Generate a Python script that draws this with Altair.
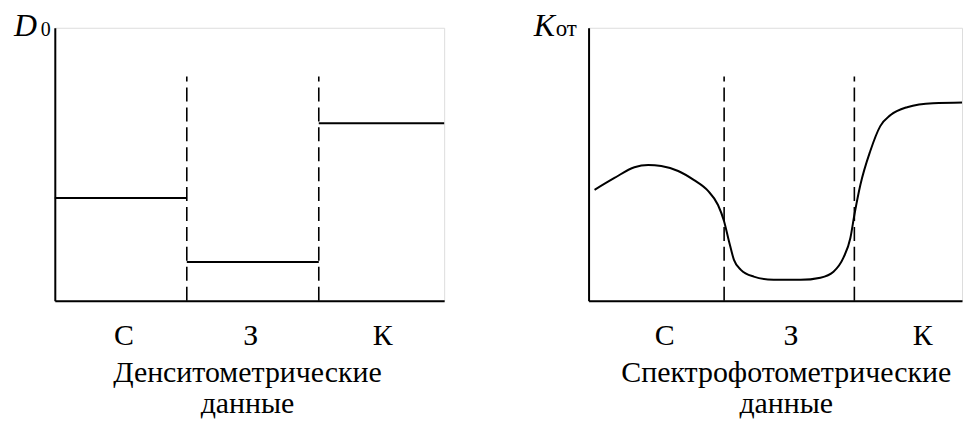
import json
import altair as alt
import pandas as pd

FONT = "Liberation Serif"

# ---------------- data ----------------
cats = ["С", "З", "К"]

# Left panel: densitometric data (step levels per zone)
d_edges = [0.0, 1.0, 2.0, 2.95]          # zone edges (x units)
d_levels = [0.376, 0.142, 0.65]          # D0 level in each zone
d_dash_x = [1.0, 2.0]                    # zone borders
d_dash_top = 0.821
d_label_x = [0.52, 1.48, 2.48]
d_title = ["Денситометрические", "данные"]

# Right panel: spectrophotometric curve
k_x = [0.045, 0.195, 0.345, 0.449, 0.547, 0.674, 0.794, 0.899, 0.974, 1.019,
       1.056, 1.094, 1.146, 1.243, 1.393, 1.596, 1.745, 1.843, 1.918, 1.970,
       2.000, 2.045, 2.120, 2.195, 2.270, 2.397, 2.592, 2.876]
k_y = [0.410, 0.454, 0.494, 0.502, 0.498, 0.480, 0.446, 0.406, 0.354, 0.295,
       0.221, 0.151, 0.114, 0.089, 0.077, 0.077, 0.085, 0.107, 0.159, 0.232,
       0.317, 0.428, 0.554, 0.646, 0.686, 0.716, 0.731, 0.734]
k_dash_x = [1.02, 2.0]
k_dash_top = 0.83
k_xmax = 2.81
k_ymax = 1.01
k_label_x = [0.57, 1.52, 2.51]
k_title = ["Спектрофотометрические", "данные"]

label_expr = json.dumps(cats, ensure_ascii=False) + "[floor(datum.value)]"


def x_axis(values, title, title_x):
    return alt.Axis(values=values, labelExpr=label_expr, ticks=False, tickSize=0,
                    grid=False, domainColor="black", domainWidth=2,
                    labelFont=FONT, labelFontSize=30, labelColor="black",
                    labelPadding=20, labelAngle=0,
                    title=title, titleFont=FONT, titleFontSize=30,
                    titleFontWeight="normal", titleColor="black",
                    titlePadding=7, titleLineHeight=31, titleX=title_x)


y_axis = alt.Axis(labels=False, ticks=False, grid=False, title=None,
                  domainColor="black", domainWidth=2)


def panel(xs, ys, ytop, width, height, line_layer, dash_x, dash_top,
          main, sub, main_dx, sub_dx, text_dy, sub_size):
    dash_df = pd.DataFrame({"x": dash_x, "y0": 0.0, "y1": dash_top})
    dashes = alt.Chart(dash_df).mark_rule(
        color="black", strokeWidth=1.6, strokeDash=[14, 6]
    ).encode(x=alt.X("x:Q", scale=xs), y=alt.Y("y0:Q", scale=ys), y2="y1:Q")
    lab_df = pd.DataFrame({"x": [0.0], "y": [ytop], "main": [main], "sub": [sub]})
    t_main = alt.Chart(lab_df).mark_text(
        font=FONT, fontSize=32, fontStyle="italic", align="left",
        baseline="alphabetic", dx=main_dx, dy=text_dy, color="black"
    ).encode(x=alt.X("x:Q", scale=xs), y=alt.Y("y:Q", scale=ys), text="main:N")
    t_sub = alt.Chart(lab_df).mark_text(
        font=FONT, fontSize=sub_size, align="left",
        baseline="alphabetic", dx=sub_dx, dy=text_dy, color="black"
    ).encode(x=alt.X("x:Q", scale=xs), y=alt.Y("y:Q", scale=ys), text="sub:N")
    return alt.layer(line_layer, dashes, t_main, t_sub).properties(
        width=width, height=height)


# left: step segments
seg_df = pd.DataFrame({"x": d_edges[:-1], "x1": d_edges[1:], "y": d_levels})
xsL = alt.Scale(domain=[0, d_edges[-1]], nice=False, zero=False)
ysL = alt.Scale(domain=[0, 1], nice=False)
steps = alt.Chart(seg_df).mark_rule(color="black", strokeWidth=2).encode(
    x=alt.X("x:Q", scale=xsL, axis=x_axis(d_label_x, d_title, 193)),
    x2="x1:Q",
    y=alt.Y("y:Q", scale=ysL, axis=y_axis),
)
left = panel(xsL, ysL, 1.0, 391, 274, steps, d_dash_x, d_dash_top,
             "D", "0", -41, -14, 8, 20)

# right: smooth curve
curve_df = pd.DataFrame({"x": k_x, "y": k_y})
xsR = alt.Scale(domain=[0, k_xmax], nice=False, zero=False)
ysR = alt.Scale(domain=[0, k_ymax], nice=False)
curve = alt.Chart(curve_df).mark_line(
    color="black", strokeWidth=2, interpolate="monotone", clip=True
).encode(
    x=alt.X("x:Q", scale=xsR, axis=x_axis(k_label_x, k_title, 198)),
    y=alt.Y("y:Q", scale=ysR, axis=y_axis),
)
right = panel(xsR, ysR, k_ymax, 375, 274, curve, k_dash_x, k_dash_top,
              "K", "от", -55, -33, 8, 23)

chart = alt.hconcat(left, right, spacing=87).properties(
    padding={"left": 5, "top": 0, "right": 0, "bottom": 0}
).configure_view(stroke=None).configure(background="white")

chart.save("out.html", embed_options={"renderer": "svg", "actions": False})
